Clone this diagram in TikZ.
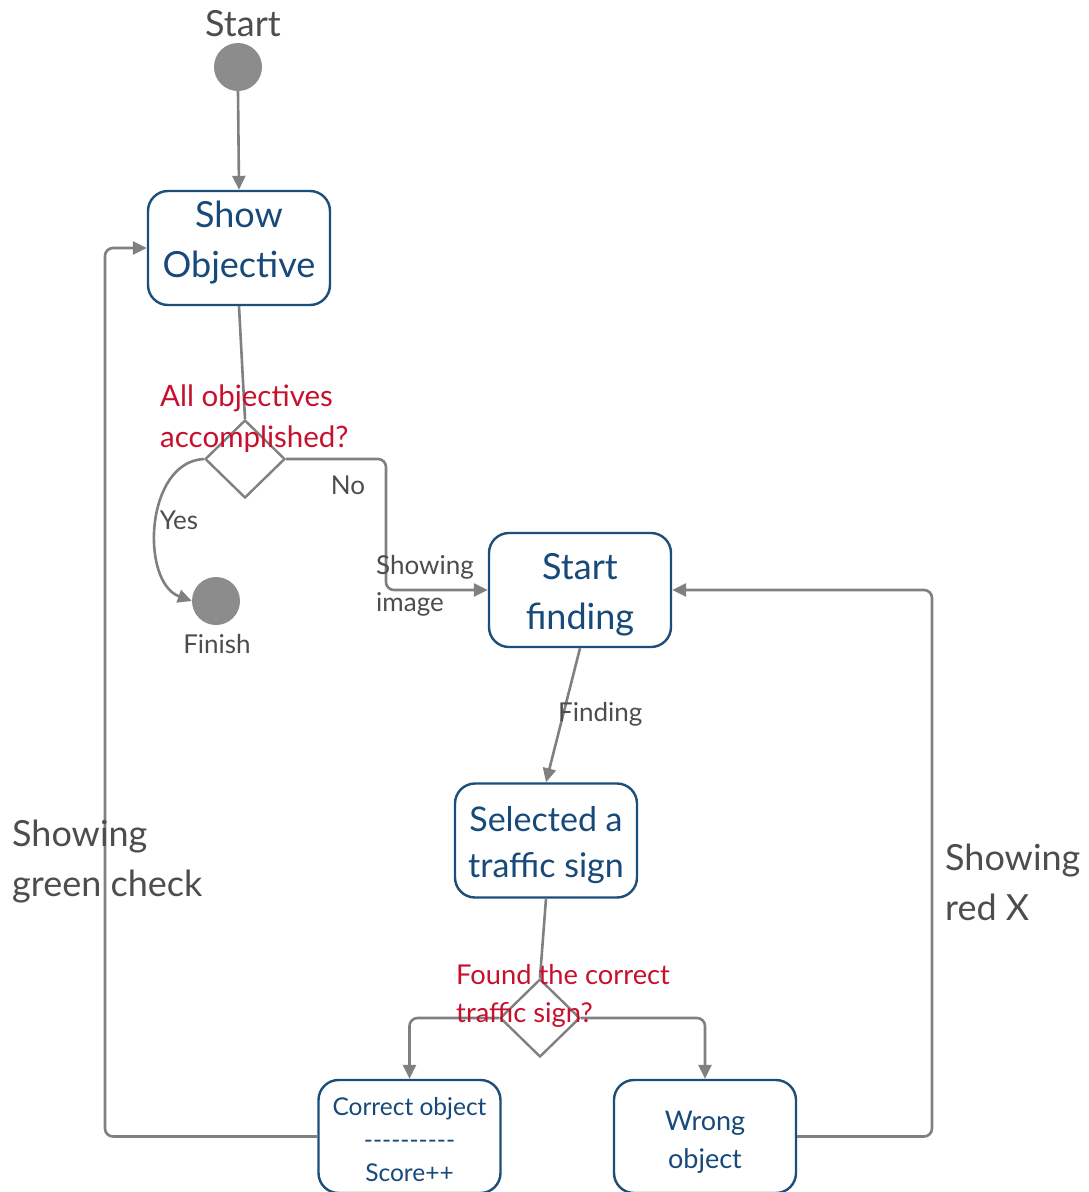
\documentclass[tikz,border=0pt]{standalone}
\usepackage{fontspec}
\setmainfont{Lato}
\usetikzlibrary{arrows.meta,shapes.geometric}
\definecolor{boxblue}{HTML}{1B4F7A}
\definecolor{txtblue}{HTML}{17497A}
\definecolor{qred}{HTML}{C8102E}
\definecolor{lblgray}{HTML}{4D4D4D}
\definecolor{linegray}{HTML}{808080}
\definecolor{dotgray}{HTML}{8C8C8C}
\newcommand\hyph{\mbox{-}}
\tikzset{
  statebox/.style={draw=boxblue, line width=2.4pt, rounded corners=20, fill=white,
    minimum width=182, minimum height=114, inner sep=0},
  boxtext/.style={text=txtblue, align=center, inner sep=0},
  dotnode/.style={circle, fill=dotgray, minimum size=48, inner sep=0},
  choice/.style={diamond, draw=linegray, line width=2.4pt, fill=white,
    minimum width=80, minimum height=78, inner sep=0, aspect=1},
  flow/.style={draw=linegray, line width=2.6pt, rounded corners=8},
  arr/.style={flow, -{Triangle[length=14,width=13]}},
  question/.style={text=qred, align=left, anchor=west, inner sep=0},
  edgelbl/.style={text=lblgray, align=left, inner sep=0, font=\fontsize{26}{37}\selectfont},
  sidelbl/.style={text=lblgray, align=left, anchor=west, inner sep=0, font=\fontsize{36}{50}\selectfont},
}
\begin{document}
\begin{tikzpicture}[x=1pt, y=-1pt]
\useasboundingbox (0,0) rectangle (1088,1192);

% initial and final states
\node[dotnode] (st) at (238,67) {};
\node[text=lblgray, inner sep=0, font=\fontsize{36}{50}\selectfont] (stlbl) at (243,24) {Start};
\node[dotnode] (fin) at (216,601) {};
\node[edgelbl] (finlbl) at (217,644) {Finish};

% activity states
\node[statebox] (so) at (239,248) {};
\node[boxtext, font=\fontsize{36}{50}\selectfont] (sotxt) at (239,243) {Show\\Objective};
\node[statebox] (sf) at (580,590) {};
\node[boxtext, font=\fontsize{36}{50}\selectfont] (sftxt) at (580,595) {Start\\finding};
\node[statebox] (sel) at (546,840.5) {};
\node[boxtext, font=\fontsize{34}{46}\selectfont] (seltxt) at (546,845.5) {Selected a\\traffic sign};
\node[statebox, minimum height=113] (co) at (409.5,1136.5) {};
\node[boxtext, font=\fontsize{24.5}{33}\selectfont] (cotxt) at (409.5,1140) {Correct object\\\hyph\hyph\hyph\hyph\hyph\hyph\hyph\hyph\hyph\hyph\\Score++};
\node[statebox, minimum height=113] (wo) at (705,1136.5) {};
\node[boxtext, font=\fontsize{27}{38}\selectfont] (wotxt) at (705,1142) {Wrong\\object};

% decisions
\node[choice] (d1) at (245,459) {};
\node[choice] (d2) at (540,1018) {};

% transitions
\draw[arr] (st.south) -- (so.north);
\draw[flow] (so.south) -- (d1.north);
\draw[arr] (d1.west) .. controls (145,462) and (140,582) .. (fin.west);
\draw[arr] (d1.east) -- (386,459) |- (sf.west);
\draw[arr] (sf.south) -- (sel.north);
\draw[flow] (sel.south) -- (d2.north);
\draw[arr] (d2.west) -| (co.north);
\draw[arr] (d2.east) -| (wo.north);
\draw[arr] (co.west) -- (105,1136.5) |- (so.west);
\draw[arr] (wo.east) -- (932,1136.5) |- (sf.east);

% guard and transition labels
\node[question, font=\fontsize{29.5}{41}\selectfont] (q1) at (160,418.5) {All objectives\\accomplished?};
\node[question, font=\fontsize{27.3}{38}\selectfont] (q2) at (456,996) {Found the correct\\traffic sign?};
\node[edgelbl] (yes) at (179,520) {Yes};
\node[edgelbl] (no) at (348,485) {No};
\node[edgelbl, anchor=west] (img) at (376,585.5) {Showing\\image};
\node[edgelbl, anchor=west] (fnd) at (558,714) {Finding};
\node[sidelbl] (green) at (12,862) {Showing\\green check};
\node[sidelbl] (redx) at (945,882) {Showing\\red X};
\end{tikzpicture}
\end{document}
